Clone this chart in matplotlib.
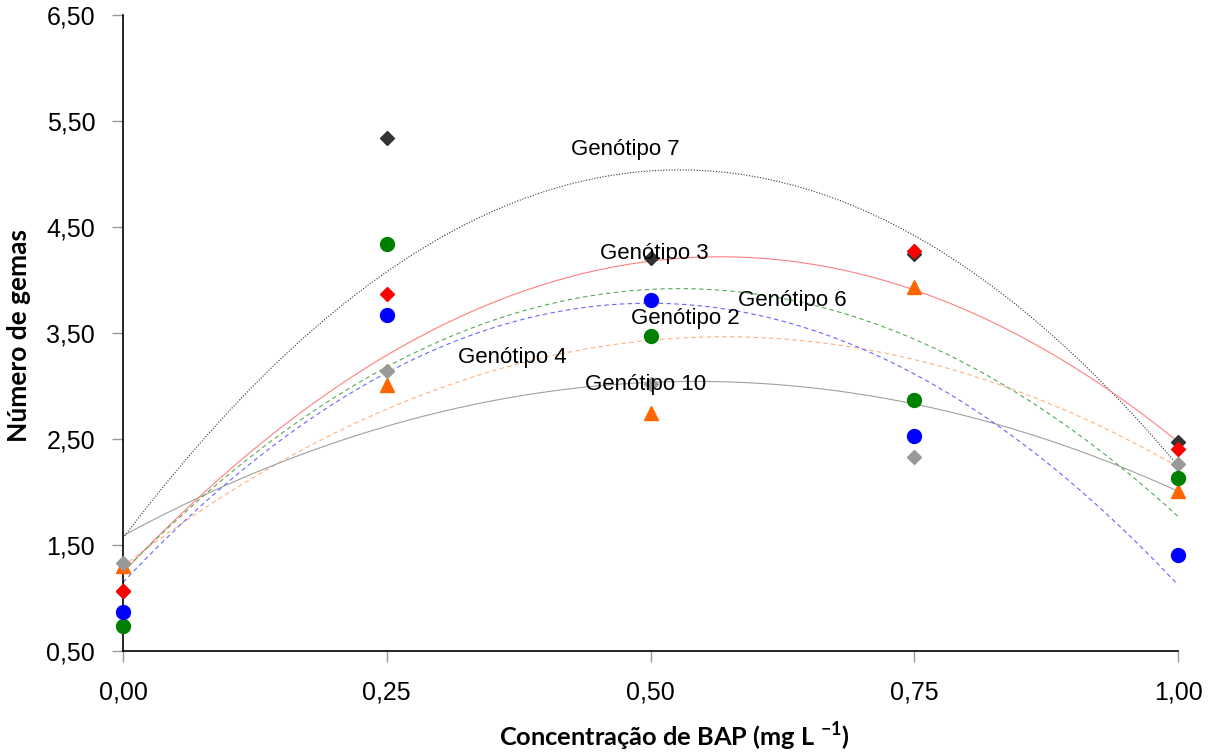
import matplotlib
matplotlib.use("Agg")
import matplotlib.pyplot as plt
import numpy as np
from matplotlib.ticker import FuncFormatter

# concentracao de BAP (mg/L)
conc = [0.0, 0.25, 0.50, 0.75, 1.00]

# numero de gemas por genotipo
gen2 = [0.87, 3.67, 3.81, 2.53, 1.41]
gen3 = [1.07, 3.87, 3.47, 4.27, 2.41]
gen4 = [1.30, 3.01, 2.75, 3.93, 2.01]
gen6 = [0.74, 4.34, 3.47, 2.87, 2.13]
gen7 = [1.07, 5.34, 4.21, 4.25, 2.47]
gen10 = [1.33, 3.14, 3.02, 2.33, 2.26]

plt.rcParams['font.family'] = ['Liberation Sans', 'DejaVu Sans']
plt.rcParams['mathtext.fontset'] = 'custom'
plt.rcParams['mathtext.rm'] = 'Lato:bold'
plt.rcParams['mathtext.bf'] = 'Lato:bold'

fig = plt.figure(figsize=(12.15, 7.53), dpi=100)
ax = fig.add_axes([123 / 1215, 1 - 651 / 753, 1055 / 1215, 636 / 753])

# (dados, cor marcador, marcador, tamanho, cor linha, estilo linha)
# a ordem define quem fica por cima
series = [
    (gen4, '#FF6600', '^', 10, '#FFB080', (0, (4, 3))),
    (gen10, '#999999', 'D', 7.5, '#a0a0a0', '-'),
    (gen7, '#333333', 'D', 7.5, '#333333', (0, (1, 1.5))),
    (gen3, '#FF0000', 'D', 7.5, '#FF8080', '-'),
    (gen6, '#008000', 'o', 10, '#55AA55', (0, (4, 3))),
    (gen2, '#0000FF', 'o', 10, '#6666FF', (0, (4, 3))),
]

xs = np.linspace(0, 1, 200)
for ys, mc, mk, ms, lc, ls in series:
    coef = np.polyfit(conc, ys, 2)
    ax.plot(xs, np.polyval(coef, xs), color=lc, linestyle=ls, linewidth=0.8, zorder=2)

for ys, mc, mk, ms, lc, ls in series:
    ax.plot(conc, ys, linestyle='none', marker=mk, markersize=ms, color=mc,
            markeredgecolor=mc, zorder=3, clip_on=False)

# rotulos das curvas
rotulos = [
    ('Genótipo 7', 0.476, 5.23),
    ('Genótipo 3', 0.504, 4.25),
    ('Genótipo 6', 0.634, 3.81),
    ('Genótipo 2', 0.533, 3.64),
    ('Genótipo 4', 0.369, 3.27),
    ('Genótipo 10', 0.495, 3.01),
]
for txt, x, y in rotulos:
    ax.text(x, y, txt, fontsize=16, ha='center', va='center', zorder=4)

ax.set_xlim(0, 1)
ax.set_ylim(0.5, 6.5)
ax.set_xticks(conc)
ax.set_yticks(np.arange(0.5, 6.6, 1.0))
fmt = FuncFormatter(lambda v, p: f'{v:.2f}'.replace('.', ','))
ax.xaxis.set_major_formatter(fmt)
ax.yaxis.set_major_formatter(fmt)
ax.tick_params(axis='both', direction='out', length=8, width=1, color='#999999',
               labelsize=18)
ax.tick_params(axis='x', pad=13)
ax.tick_params(axis='y', pad=12)

for s in ['top', 'right']:
    ax.spines[s].set_visible(False)
for s in ['left', 'bottom']:
    ax.spines[s].set_color('black')
    ax.spines[s].set_linewidth(1.2)

fig.text(674 / 1215, 1 - 737 / 753, 'Concentração de BAP (mg L $^{-1}$)',
         fontsize=18.3, fontfamily='Lato', fontweight='bold', ha='center', va='center')
fig.text(19 / 1215, 1 - 335 / 753, 'Número de gemas', rotation=90,
         fontsize=19, fontfamily='Lato', fontweight='bold', ha='center', va='center')

fig.savefig('out.png', dpi=100)
